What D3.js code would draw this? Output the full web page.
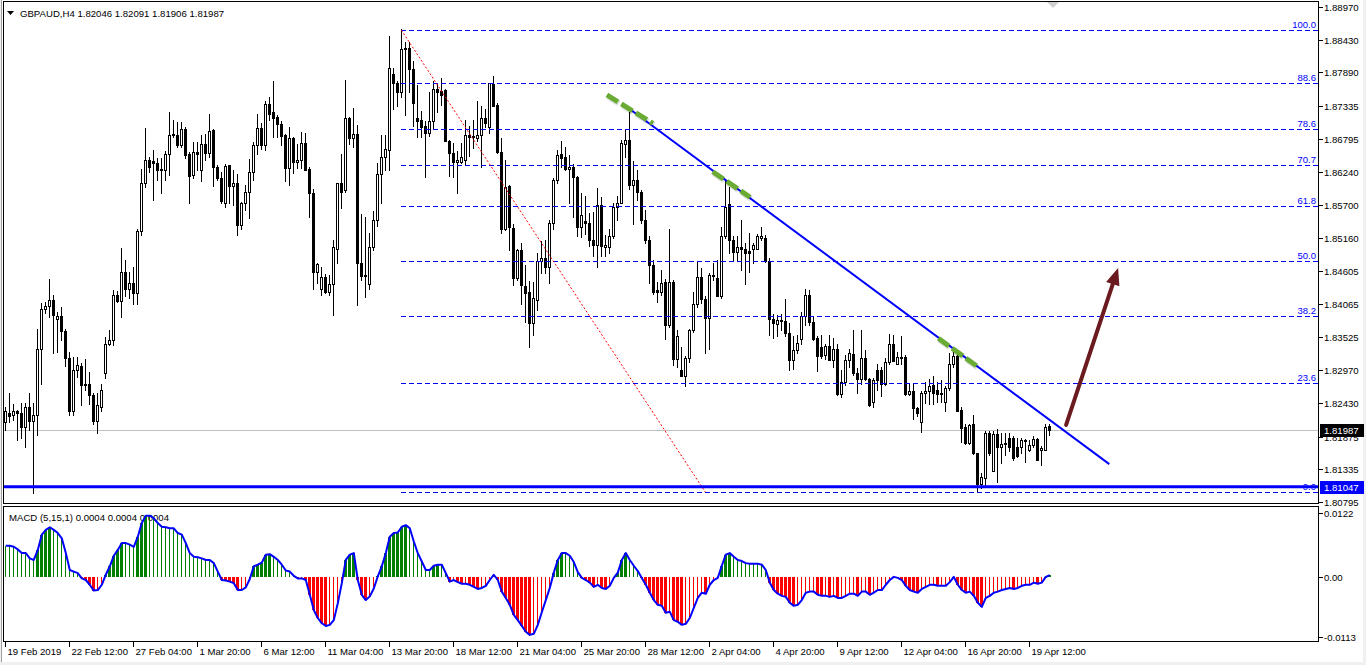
<!DOCTYPE html>
<html><head><meta charset="utf-8">
<script src="https://cdn.jsdelivr.net/npm/d3@7"></script>
<style>
html,body{margin:0;padding:0;background:#f0f0f0;overflow:hidden}
svg{display:block;font-family:"Liberation Sans",Arial,sans-serif}
</style></head><body>
<svg id="c" width="1366" height="665"></svg>
<script>
const headerText = "GBPAUD,H4  1.82046 1.82091 1.81906 1.81987";
const macdText = "MACD (5,15,1) 0.0004 0.0004 0.0004";

const open = [1.8212,1.8227,1.8223,1.8230,1.8227,1.8203,1.8236,1.8214,1.8223,1.8333,1.8398,1.8404,1.8413,1.8381,1.8386,1.8362,1.8318,1.8229,1.8298,1.8304,1.8275,1.8275,1.8257,1.8214,1.8237,1.8293,1.8340,1.8347,1.8422,1.8412,1.8459,1.8432,1.8442,1.8425,1.8527,1.8607,1.8644,1.8642,1.8640,1.8627,1.8627,1.8654,1.8686,1.8686,1.8669,1.8695,1.8654,1.8619,1.8658,1.8627,1.8671,1.8656,1.8694,1.8632,1.8615,1.8574,1.8636,1.8601,1.8607,1.8537,1.8574,1.8592,1.8624,1.8669,1.8697,1.8669,1.8737,1.8723,1.8715,1.8703,1.8686,1.8631,1.8681,1.8641,1.8645,1.8672,1.8629,1.8589,1.8460,1.8431,1.8451,1.8427,1.8439,1.8498,1.8606,1.8594,1.8713,1.8680,1.8688,1.8475,1.8454,1.8439,1.8501,1.8546,1.8621,1.8650,1.8661,1.8786,1.8771,1.8756,1.8829,1.8829,1.8794,1.8713,1.8710,1.8700,1.8689,1.8708,1.8761,1.8758,1.8760,1.8675,1.8656,1.8641,1.8641,1.8645,1.8686,1.8684,1.8680,1.8686,1.8713,1.8699,1.8770,1.8735,1.8658,1.8530,1.8601,1.8532,1.8449,1.8495,1.8436,1.8427,1.8375,1.8413,1.8478,1.8482,1.8468,1.8541,1.8611,1.8654,1.8650,1.8629,1.8632,1.8616,1.8533,1.8544,1.8541,1.8513,1.8504,1.8570,1.8501,1.8501,1.8518,1.8567,1.8573,1.8671,1.8678,1.8603,1.8612,1.8592,1.8545,1.8513,1.8471,1.8430,1.8427,1.8443,1.8372,1.8443,1.8315,1.8298,1.8287,1.8317,1.8364,1.8407,1.8451,1.8414,1.8383,1.8454,1.8449,1.8419,1.8518,1.8572,1.8512,1.8493,1.8500,1.8498,1.8494,1.8498,1.8498,1.8516,1.8516,1.8478,1.8381,1.8374,1.8380,1.8379,1.8358,1.8314,1.8331,1.8348,1.8386,1.8421,1.8377,1.8350,1.8336,1.8322,1.8337,1.8314,1.8333,1.8258,1.8278,1.8314,1.8324,1.8292,1.8282,1.8317,1.8282,1.8244,1.8298,1.8298,1.8274,1.8311,1.8340,1.8307,1.8319,1.8319,1.8258,1.8262,1.8234,1.8211,1.8260,1.8262,1.8273,1.8264,1.8258,1.8245,1.8267,1.8308,1.8321,1.8232,1.8204,1.8177,1.8208,1.8160,1.8110,1.8119,1.8193,1.8131,1.8192,1.8171,1.8175,1.8185,1.8185,1.8171,1.8171,1.8181,1.8165,1.8173,1.8183,1.8166,1.8166,1.82046];
const high = [1.8237,1.8259,1.8241,1.8231,1.8243,1.8243,1.8260,1.8243,1.8366,1.8408,1.8410,1.8447,1.8422,1.8394,1.8401,1.8366,1.8327,1.8319,1.8319,1.8309,1.8315,1.8294,1.8260,1.8259,1.8274,1.8352,1.8364,1.8429,1.8428,1.8499,1.8479,1.8460,1.8467,1.8530,1.8630,1.8697,1.8650,1.8661,1.8647,1.8647,1.8660,1.8723,1.8711,1.8707,1.8707,1.8699,1.8658,1.8674,1.8674,1.8686,1.8687,1.8720,1.8695,1.8636,1.8625,1.8637,1.8636,1.8628,1.8622,1.8575,1.8603,1.8646,1.8674,1.8721,1.8705,1.8742,1.8749,1.8774,1.8719,1.8708,1.8688,1.8699,1.8683,1.8671,1.8691,1.8689,1.8633,1.8597,1.8475,1.8468,1.8456,1.8454,1.8512,1.8606,1.8655,1.8777,1.8716,1.8730,1.8702,1.8555,1.8550,1.8523,1.8560,1.8639,1.8686,1.8686,1.8849,1.8796,1.8775,1.8860,1.8840,1.8840,1.8808,1.8768,1.8726,1.8708,1.8756,1.8775,1.8771,1.8779,1.8761,1.8677,1.8673,1.8660,1.8673,1.8710,1.8700,1.8711,1.8742,1.8733,1.8729,1.8772,1.8783,1.8738,1.8680,1.8644,1.8603,1.8539,1.8497,1.8508,1.8471,1.8445,1.8443,1.8490,1.8510,1.8513,1.8546,1.8614,1.8661,1.8675,1.8665,1.8653,1.8638,1.8618,1.8589,1.8585,1.8557,1.8559,1.8598,1.8584,1.8521,1.8530,1.8574,1.8585,1.8677,1.8695,1.8724,1.8642,1.8628,1.8595,1.8562,1.8518,1.8479,1.8443,1.8463,1.8447,1.8531,1.8446,1.8364,1.8335,1.8320,1.8366,1.8427,1.8478,1.8466,1.8419,1.8457,1.8475,1.8479,1.8534,1.8611,1.8600,1.8518,1.8518,1.8546,1.8507,1.8523,1.8507,1.8522,1.8534,1.8521,1.8482,1.8390,1.8388,1.8390,1.8414,1.8375,1.8353,1.8355,1.8394,1.8432,1.8430,1.8386,1.8353,1.8355,1.8341,1.8355,1.8350,1.8341,1.8297,1.8322,1.8332,1.8364,1.8300,1.8364,1.8330,1.8284,1.8285,1.8307,1.8303,1.8318,1.8357,1.8355,1.8328,1.8353,1.8322,1.8276,1.8276,1.8237,1.8262,1.8277,1.8282,1.8287,1.8278,1.8281,1.8271,1.8326,1.8333,1.8322,1.8236,1.8208,1.8208,1.8223,1.8161,1.8128,1.8197,1.8197,1.8196,1.8200,1.8193,1.8193,1.8193,1.8189,1.8185,1.8185,1.8183,1.8182,1.8189,1.8186,1.8172,1.8208,1.82091];
const low = [1.8198,1.8212,1.8215,1.8182,1.8186,1.8171,1.8199,1.8094,1.8190,1.8275,1.8391,1.8385,1.8325,1.8328,1.8347,1.8304,1.8223,1.8223,1.8286,1.8239,1.8264,1.8242,1.8209,1.8194,1.8229,1.8285,1.8339,1.8339,1.8410,1.8385,1.8419,1.8416,1.8407,1.8407,1.8520,1.8600,1.8625,1.8578,1.8611,1.8589,1.8611,1.8619,1.8683,1.8666,1.8666,1.8647,1.8574,1.8614,1.8627,1.8610,1.8644,1.8650,1.8601,1.8611,1.8573,1.8566,1.8573,1.8570,1.8520,1.8531,1.8562,1.8548,1.8611,1.8655,1.8663,1.8661,1.8710,1.8683,1.8683,1.8669,1.8610,1.8603,1.8623,1.8631,1.8631,1.8627,1.8551,1.8431,1.8441,1.8421,1.8424,1.8421,1.8388,1.8474,1.8565,1.8592,1.8671,1.8665,1.8405,1.8446,1.8418,1.8432,1.8496,1.8535,1.8574,1.8628,1.8628,1.8728,1.8733,1.8748,1.8718,1.8757,1.8700,1.8683,1.8682,1.8617,1.8684,1.8697,1.8724,1.8735,1.8675,1.8618,1.8616,1.8589,1.8639,1.8638,1.8651,1.8664,1.8675,1.8633,1.8699,1.8689,1.8733,1.8656,1.8523,1.8528,1.8496,1.8438,1.8446,1.8407,1.8376,1.8336,1.8355,1.8397,1.8458,1.8457,1.8442,1.8530,1.8606,1.8632,1.8628,1.8574,1.8551,1.8518,1.8517,1.8522,1.8502,1.8486,1.8467,1.8486,1.8485,1.8491,1.8515,1.8546,1.8573,1.8650,1.8596,1.8539,1.8578,1.8540,1.8507,1.8442,1.8423,1.8410,1.8421,1.8348,1.8369,1.8306,1.8303,1.8287,1.8271,1.8311,1.8360,1.8402,1.8408,1.8325,1.8333,1.8446,1.8419,1.8416,1.8515,1.8491,1.8479,1.8479,1.8463,1.8440,1.8460,1.8474,1.8497,1.8512,1.8476,1.8355,1.8350,1.8353,1.8364,1.8354,1.8298,1.8299,1.8325,1.8341,1.8372,1.8372,1.8347,1.8296,1.8317,1.8315,1.8314,1.8303,1.8256,1.8253,1.8273,1.8303,1.8289,1.8260,1.8275,1.8281,1.8238,1.8236,1.8264,1.8254,1.8273,1.8308,1.8312,1.8307,1.8307,1.8256,1.8256,1.8216,1.8222,1.8195,1.8243,1.8241,1.8242,1.8244,1.8244,1.8230,1.8264,1.8303,1.8229,1.8179,1.8175,1.8176,1.8159,1.8098,1.8102,1.8105,1.8157,1.8130,1.8113,1.8144,1.8157,1.8163,1.8149,1.8153,1.8160,1.8146,1.8163,1.8171,1.8149,1.8141,1.8165,1.81906];
const close = [1.8229,1.8222,1.8230,1.8226,1.8203,1.8236,1.8214,1.8223,1.8333,1.8398,1.8404,1.8413,1.8389,1.8386,1.8362,1.8318,1.8229,1.8298,1.8305,1.8273,1.8273,1.8257,1.8214,1.8240,1.8264,1.8340,1.8347,1.8422,1.8412,1.8459,1.8432,1.8442,1.8425,1.8527,1.8607,1.8644,1.8633,1.8640,1.8627,1.8629,1.8654,1.8686,1.8688,1.8669,1.8695,1.8652,1.8618,1.8658,1.8655,1.8671,1.8656,1.8693,1.8633,1.8614,1.8577,1.8634,1.8601,1.8607,1.8537,1.8574,1.8592,1.8624,1.8669,1.8697,1.8669,1.8737,1.8720,1.8713,1.8703,1.8684,1.8631,1.8680,1.8641,1.8645,1.8672,1.8628,1.8589,1.8460,1.8472,1.8451,1.8427,1.8439,1.8500,1.8606,1.8592,1.8713,1.8680,1.8688,1.8475,1.8453,1.8453,1.8501,1.8546,1.8621,1.8650,1.8662,1.8796,1.8771,1.8756,1.8827,1.8827,1.8794,1.8738,1.8709,1.8699,1.8689,1.8708,1.8761,1.8756,1.8751,1.8675,1.8656,1.8641,1.8644,1.8650,1.8686,1.8682,1.8682,1.8686,1.8713,1.8705,1.8771,1.8733,1.8658,1.8530,1.8599,1.8533,1.8449,1.8495,1.8438,1.8425,1.8375,1.8416,1.8478,1.8482,1.8468,1.8541,1.8611,1.8652,1.8648,1.8629,1.8632,1.8616,1.8533,1.8554,1.8540,1.8513,1.8504,1.8570,1.8502,1.8504,1.8518,1.8567,1.8573,1.8672,1.8678,1.8603,1.8612,1.8592,1.8545,1.8513,1.8471,1.8427,1.8427,1.8442,1.8372,1.8443,1.8315,1.8353,1.8287,1.8317,1.8364,1.8407,1.8451,1.8414,1.8383,1.8454,1.8452,1.8419,1.8518,1.8567,1.8512,1.8493,1.8500,1.8498,1.8491,1.8490,1.8504,1.8519,1.8519,1.8478,1.8381,1.8375,1.8380,1.8379,1.8358,1.8314,1.8331,1.8342,1.8387,1.8421,1.8376,1.8348,1.8321,1.8321,1.8337,1.8314,1.8333,1.8258,1.8278,1.8314,1.8325,1.8292,1.8282,1.8317,1.8282,1.8240,1.8281,1.8281,1.8274,1.8311,1.8340,1.8313,1.8319,1.8318,1.8258,1.8262,1.8234,1.8227,1.8260,1.8262,1.8271,1.8259,1.8258,1.8260,1.8267,1.8308,1.8321,1.8230,1.8201,1.8177,1.8207,1.8160,1.8110,1.8120,1.8194,1.8160,1.8192,1.8171,1.8175,1.8177,1.8171,1.8152,1.8155,1.8182,1.8182,1.8173,1.8183,1.8149,1.8168,1.8204,1.81987];
const macd = [0.0060,0.0060,0.0058,0.0053,0.0046,0.0046,0.0036,0.0033,0.0052,0.0081,0.0090,0.0095,0.0090,0.0084,0.0074,0.0046,0.0014,0.0011,0.0008,-0.0002,-0.0005,-0.0014,-0.0025,-0.0024,-0.0014,0.0005,0.0021,0.0041,0.0052,0.0065,0.0065,0.0062,0.0058,0.0077,0.0103,0.0117,0.0117,0.0112,0.0103,0.0096,0.0095,0.0093,0.0093,0.0084,0.0081,0.0065,0.0046,0.0039,0.0038,0.0036,0.0033,0.0033,0.0027,0.0011,-0.0005,-0.0006,-0.0008,-0.0011,-0.0024,-0.0024,-0.0019,-0.0003,0.0021,0.0024,0.0028,0.0043,0.0044,0.0039,0.0033,0.0024,0.0013,0.0011,0.0003,-0.0002,-0.0002,-0.0005,-0.0033,-0.0062,-0.0077,-0.0087,-0.0092,-0.0090,-0.0081,-0.0049,-0.0011,0.0033,0.0043,0.0046,-0.0005,-0.0033,-0.0043,-0.0036,-0.0021,0.0002,0.0021,0.0046,0.0077,0.0084,0.0085,0.0096,0.0099,0.0093,0.0068,0.0046,0.0030,0.0014,0.0014,0.0022,0.0024,0.0024,0.0008,-0.0008,-0.0005,-0.0009,-0.0012,-0.0012,-0.0014,-0.0018,-0.0022,-0.0020,-0.0016,-0.0005,0.0005,-0.0005,-0.0027,-0.0039,-0.0052,-0.0071,-0.0081,-0.0092,-0.0103,-0.0109,-0.0107,-0.0090,-0.0066,-0.0043,-0.0020,0.0009,0.0033,0.0046,0.0046,0.0041,0.0029,0.0010,-0.0001,-0.0005,-0.0010,-0.0018,-0.0014,-0.0020,-0.0022,-0.0016,-0.0001,0.0009,0.0033,0.0046,0.0033,0.0022,0.0012,-0.0001,-0.0014,-0.0029,-0.0043,-0.0052,-0.0054,-0.0067,-0.0065,-0.0081,-0.0084,-0.0090,-0.0088,-0.0077,-0.0058,-0.0039,-0.0029,-0.0031,-0.0014,-0.0005,-0.0001,0.0022,0.0043,0.0046,0.0039,0.0033,0.0031,0.0027,0.0026,0.0026,0.0026,0.0024,0.0014,-0.0010,-0.0024,-0.0031,-0.0035,-0.0037,-0.0048,-0.0054,-0.0052,-0.0043,-0.0029,-0.0027,-0.0027,-0.0033,-0.0035,-0.0035,-0.0037,-0.0035,-0.0039,-0.0039,-0.0035,-0.0031,-0.0031,-0.0035,-0.0027,-0.0027,-0.0033,-0.0029,-0.0024,-0.0024,-0.0014,-0.0005,0.0001,-0.0001,-0.0005,-0.0016,-0.0024,-0.0027,-0.0029,-0.0022,-0.0018,-0.0014,-0.0014,-0.0016,-0.0016,-0.0016,-0.0009,0.0001,-0.0014,-0.0024,-0.0029,-0.0027,-0.0035,-0.0048,-0.0056,-0.0039,-0.0035,-0.0029,-0.0027,-0.0024,-0.0022,-0.0020,-0.0022,-0.0020,-0.0016,-0.0014,-0.0014,-0.0010,-0.0012,-0.0010,0.0001,0.0004];

const priceTicks = [1.88970,1.88430,1.87890,1.87335,1.86795,1.86240,1.85700,1.85160,1.84605,1.84065,1.83525,1.82970,1.82430,1.81875,1.81335,1.80795];
const timeLabels = ["19 Feb 2019","22 Feb 12:00","27 Feb 04:00","1 Mar 20:00","6 Mar 12:00","11 Mar 04:00","13 Mar 20:00","18 Mar 12:00","21 Mar 04:00","25 Mar 20:00","28 Mar 12:00","2 Apr 04:00","4 Apr 20:00","9 Apr 12:00","12 Apr 04:00","16 Apr 20:00","19 Apr 12:00"];
const timeLabelBars = [0,16,32,48,64,80,96,112,128,144,160,176,192,208,224,240,256];
const fibLevels = [100.0,88.6,78.6,70.7,61.8,50.0,38.2,23.6,0.0];
const fibHighPrice = 1.8859, fibLowPrice = 1.8096, fibStartBar = 99, fibEndBar = 175;
const bidPrice = 1.81987;
const supportPrice = 1.81047;
const macdTicks = [0.0122, 0, -0.0113];
const macdTickLabels = ["0.0122","0.00","-0.0113"];
const trendLine = [[156, 1.8729],[276, 1.8142]];
const greenMarks = [
  [[150.4,1.87517],[161.9,1.87046]],
  [[176.85,1.8625],[186.2,1.85827]],
  [[233.25,1.83498],[242.85,1.83041]]
];
const arrowPts = [[265.2,1.82067],[278.2,1.8466]];

const svg = d3.select("#c");
const x = d3.scaleLinear().domain([0, 261]).range([5.3, 1049.3]);
const y = d3.scaleLinear().domain([1.80795, 1.88970]).range([502, 7]);
const ym = d3.scaleLinear().domain([-0.0113, 0.0122]).range([637, 513]);
const L = 3.5, R = 1318.5, T = 1.5, B1 = 503.5, T2 = 506.5, B2 = 641.5;

svg.append("rect").attr("x",2).attr("y",0).attr("width",1361).attr("height",662).attr("fill","#fff");

const defs = svg.append("defs");
defs.append("clipPath").attr("id","cm").append("rect").attr("x",L).attr("y",T).attr("width",R-L).attr("height",B1-T);
defs.append("clipPath").attr("id","cs").append("rect").attr("x",L).attr("y",T2).attr("width",R-L).attr("height",B2-T2);

const main = svg.append("g").attr("clip-path","url(#cm)");

main.append("line").attr("x1",L).attr("x2",R).attr("y1",Math.round(y(bidPrice))+0.5).attr("y2",Math.round(y(bidPrice))+0.5)
  .attr("stroke","#c0c0c0").attr("stroke-width",1);

// candles
const bars = d3.range(open.length).map(i => ({i, o:open[i], h:high[i], l:low[i], c:close[i]}));
const cg = main.append("g").attr("shape-rendering","crispEdges");
cg.selectAll("line.w").data(bars).join("line").attr("class","w")
  .attr("x1", d => Math.round(x(d.i)) + 0.5).attr("x2", d => Math.round(x(d.i)) + 0.5)
  .attr("y1", d => Math.round(y(d.h))).attr("y2", d => Math.round(y(d.l)) + 1)
  .attr("stroke","#000").attr("stroke-width",1);
cg.selectAll("rect.b").data(bars).join("rect").attr("class","b")
  .each(function(d){
    const cx = Math.round(x(d.i));
    const yo = Math.round(y(d.o)), yc = Math.round(y(d.c));
    const s = d3.select(this);
    if (d.c >= d.o) {
      s.attr("x", cx - 0.5).attr("width", 2)
       .attr("y", yc + 0.5).attr("height", Math.max(0, yo - yc))
       .attr("fill","#fff").attr("stroke","#000").attr("stroke-width",1);
    } else {
      s.attr("x", cx - 1).attr("width", 3)
       .attr("y", yo).attr("height", Math.max(1, yc - yo + 1))
       .attr("fill","#000");
    }
  });

// Fibonacci levels
const fibG = main.append("g");
const fx0 = Math.round(x(fibStartBar));
fibLevels.forEach(lv => {
  const p = fibLowPrice + (fibHighPrice - fibLowPrice) * lv / 100;
  const yy = Math.round(y(p)) + 0.5;
  fibG.append("path").attr("d", `M${fx0},${yy}H${R}`)
    .attr("stroke","#0000ff").attr("stroke-width",1).attr("stroke-dasharray","5,3").attr("fill","none");
  fibG.append("text").attr("x",1316).attr("y",yy-2.5).attr("text-anchor","end")
    .attr("font-size","9.5px").attr("fill","#0000ff").text(lv.toFixed(1));
});
main.append("line")
  .attr("x1",x(fibStartBar)).attr("y1",y(fibHighPrice))
  .attr("x2",x(fibEndBar)).attr("y2",y(fibLowPrice))
  .attr("stroke","#ff0000").attr("stroke-width",1).attr("stroke-dasharray","2,2");

main.append("line").attr("x1",L).attr("x2",R).attr("y1",y(supportPrice)).attr("y2",y(supportPrice))
  .attr("stroke","#0000ff").attr("stroke-width",3);

main.append("line")
  .attr("x1",x(trendLine[0][0])).attr("y1",y(trendLine[0][1]))
  .attr("x2",x(trendLine[1][0])).attr("y2",y(trendLine[1][1]))
  .attr("stroke","#0000ff").attr("stroke-width",2);

greenMarks.forEach(seg => {
  main.append("line")
    .attr("x1",x(seg[0][0])+1).attr("y1",y(seg[0][1])+1.5)
    .attr("x2",x(seg[1][0])+1).attr("y2",y(seg[1][1])+1.5)
    .attr("stroke","#000").attr("stroke-opacity",0.12).attr("stroke-width",6).attr("stroke-dasharray","13,4");
  main.append("line")
    .attr("x1",x(seg[0][0])).attr("y1",y(seg[0][1]))
    .attr("x2",x(seg[1][0])).attr("y2",y(seg[1][1]))
    .attr("stroke","#6aab34").attr("stroke-width",5).attr("stroke-dasharray","13,4");
});

{
  const ax0 = x(arrowPts[0][0]), ay0 = y(arrowPts[0][1]);
  const ax1 = x(arrowPts[1][0]), ay1 = y(arrowPts[1][1]);
  const dx = ax1 - ax0, dy = ay1 - ay0, len = Math.hypot(dx, dy);
  const ux = dx/len, uy = dy/len, px = -uy, py = ux;
  const hl = 17, hw = 7;
  const bx = ax1 - ux*hl, by = ay1 - uy*hl;
  main.append("line").attr("x1",ax0).attr("y1",ay0).attr("x2",bx).attr("y2",by)
    .attr("stroke","#6b1a20").attr("stroke-width",4).attr("stroke-linecap","round");
  main.append("polygon").attr("points",[[ax1,ay1],[bx+px*hw,by+py*hw],[bx-px*hw,by-py*hw]].map(p=>p.join(",")).join(" "))
    .attr("fill","#6b1a20");
}

svg.append("polygon").attr("points","1047,2 1059,2 1053,8").attr("fill","#d0d0d0");

svg.append("polygon").attr("points","7,11 14,11 10.5,15").attr("fill","#000");
svg.append("text").attr("x",20).attr("y",17).attr("font-size","9.6px").attr("fill","#000").text(headerText);

// MACD panel
const sub = svg.append("g").attr("clip-path","url(#cs)");
sub.append("text").attr("x",9).attr("y",521).attr("font-size","9.6px").attr("fill","#000").text(macdText);
const y0 = Math.round(ym(0));
const hist = sub.append("g").attr("shape-rendering","crispEdges");
macd.forEach((v, i) => {
  const prev = i > 0 ? macd[i-1] : v;
  const cx = Math.round(x(i));
  const yv = Math.round(ym(v));
  const pos = v >= 0;
  const thick = pos ? v > prev : v < prev;
  const col = pos ? "#008000" : "#ff0000";
  const top = Math.min(yv, y0), h = Math.max(1, Math.abs(yv - y0));
  if (thick) {
    hist.append("rect").attr("x",cx-1).attr("width",3).attr("y",top).attr("height",h).attr("fill",col);
  } else {
    hist.append("rect").attr("x",cx).attr("width",1).attr("y",top).attr("height",h).attr("fill",col);
  }
});
sub.append("path").datum(macd)
  .attr("d", d3.line().x((d,i)=>x(i)+0.5).y(d=>ym(d)))
  .attr("fill","none").attr("stroke","#0000ff").attr("stroke-width",2).attr("stroke-linejoin","round");

// frames
const fr = svg.append("g").attr("shape-rendering","crispEdges").attr("fill","none").attr("stroke","#000").attr("stroke-width",1);
fr.append("rect").attr("x",L).attr("y",T).attr("width",R-L).attr("height",B1-T);
fr.append("rect").attr("x",L).attr("y",T2).attr("width",R-L).attr("height",B2-T2);
svg.append("line").attr("x1",1.5).attr("x2",1.5).attr("y1",0).attr("y2",662).attr("stroke","#a0a0a0").attr("shape-rendering","crispEdges");

// price axis
const pa = svg.append("g");
priceTicks.forEach(p => {
  const yy = Math.round(y(p)) + 0.5;
  pa.append("line").attr("x1",R).attr("x2",R+4).attr("y1",yy).attr("y2",yy).attr("stroke","#000").attr("shape-rendering","crispEdges");
  pa.append("text").attr("x",1324).attr("y",yy+3.5).attr("font-size","9.6px").attr("fill","#000").text(p.toFixed(5));
});
function priceBox(p, bg) {
  const yy = y(p);
  pa.append("rect").attr("x",R+1).attr("y",Math.round(yy)-6).attr("width",44).attr("height",13).attr("fill",bg).attr("shape-rendering","crispEdges");
  pa.append("text").attr("x",1324).attr("y",Math.round(yy)+4).attr("font-size","9.6px").attr("fill","#fff").text(p.toFixed(5));
}
priceBox(bidPrice, "#000");
priceBox(supportPrice, "#0000ff");

macdTicks.forEach((v, k) => {
  const yy = Math.round(ym(v)) + 0.5;
  pa.append("line").attr("x1",R).attr("x2",R+4).attr("y1",yy).attr("y2",yy).attr("stroke","#000").attr("shape-rendering","crispEdges");
  pa.append("text").attr("x",1324).attr("y",yy+3.5).attr("font-size","9.6px").attr("fill","#000").text(macdTickLabels[k]);
});

// time axis
const ta = svg.append("g");
timeLabelBars.forEach((b, k) => {
  const xx = Math.round(x(b)) + 0.5;
  ta.append("line").attr("x1",xx).attr("x2",xx).attr("y1",B2).attr("y2",B2+5).attr("stroke","#000").attr("shape-rendering","crispEdges");
  ta.append("text").attr("x",xx+2).attr("y",655).attr("font-size","9.6px").attr("fill","#000").text(timeLabels[k]);
});
</script>
</body></html>
